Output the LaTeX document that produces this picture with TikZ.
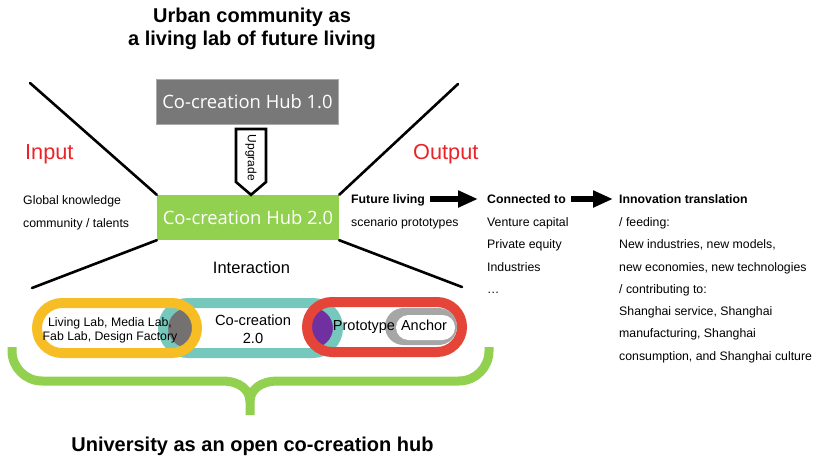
\documentclass[tikz,border=0pt]{standalone}
\usepackage{fontspec}
\setmainfont{Liberation Sans}
\newfontfamily\hubfont{Open Sans}
\usetikzlibrary{arrows.meta}

\definecolor{hubgreen}{RGB}{146,208,80}
\definecolor{hubgray}{RGB}{120,120,120}
\definecolor{hubedge}{RGB}{170,170,170}
\definecolor{labred}{RGB}{235,35,40}
\definecolor{pillyellow}{RGB}{247,189,36}
\definecolor{pillteal}{RGB}{118,200,188}
\definecolor{pillred}{RGB}{229,68,56}
\definecolor{anchorgray}{RGB}{166,166,166}
\definecolor{lensgray}{RGB}{118,113,113}
\definecolor{lenspurple}{RGB}{112,48,160}

\begin{document}
\begin{tikzpicture}[x=1pt,y=-1pt,
  hubbox/.style={minimum width=182pt, minimum height=45pt, inner sep=0pt,
    text=white, font=\hubfont\fontsize{18.4}{20}\selectfont},
  vline/.style={line width=2.6pt, line cap=round},
  title/.style={font=\bfseries\fontsize{20}{23}\selectfont, inner sep=0pt, anchor=base},
  redlabel/.style={text=labred, font=\fontsize{21.7}{24}\selectfont, inner sep=0pt, anchor=base west},
  small/.style={font=\fontsize{12.3}{14}\selectfont, inner sep=0pt, anchor=base west},
  smallbold/.style={small, font=\bfseries\fontsize{12.3}{14}\selectfont},
  pilltext/.style={font=\fontsize{14.7}{18}\selectfont, inner sep=0pt, anchor=base},
  bigarrow/.style={line width=6.5pt, -{Triangle[length=20pt,width=16pt]}},
  pill/.style={line width=10pt, rounded corners=25pt},
  brace/.style={line width=9pt, draw=hubgreen}
]
\useasboundingbox (0,0) rectangle (816,460);

% titles
\node[title] (top1) at (252,23) {Urban community as};
\node[title] (top2) at (252,46) {a living lab of future living};
\node[title] (bottom) at (252.5,451) {University as an open co-creation hub};

% hub boxes
\node[hubbox, fill=hubgray, draw=hubedge, line width=0.8pt] (hub1) at (247.5,101.5) {Co-creation Hub 1.0};
\node[hubbox, fill=hubgreen] (hub2) at (248,217.5) {Co-creation Hub 2.0};

% upgrade arrow between the hubs
\draw[line width=2.6pt, fill=white, line join=miter]
  (236,129) -- (266,129) -- (266,182) -- (hub2.north -| 251,0) -- (236,182) -- cycle;
\node[rotate=-90, font=\fontsize{12}{14}\selectfont, inner sep=0pt] (upg) at (251,158) {Upgrade};

% funnel lines
\coordinate (inTop) at (30,83);
\coordinate (outTop) at (458,84);
\coordinate (inBot) at (32,288);
\coordinate (outBot) at (462,287);
\draw[vline] (inTop) -- (hub2.north west);
\draw[vline] (outTop) -- (hub2.north east);
\draw[vline] (inBot) -- (hub2.south west);
\draw[vline] (outBot) -- (hub2.south east);

% input / output labels
\node[redlabel] (input) at (25,159) {Input};
\node[redlabel] (output) at (413,159) {Output};

\node[small] (in1) at (23,204) {Global knowledge};
\node[small] (in2) at (23,227) {community / talents};

\node[pilltext, font=\fontsize{16.5}{18}\selectfont] (interaction) at (251.5,273) {Interaction};

% output chain
\node[smallbold] (fl) at (351,203) {Future living};
\node[small] (fl2) at (351,226) {scenario prototypes};

\node[smallbold] (ct) at (487,203) {Connected to};
\node[small] (ct1) at (487,226) {Venture capital};
\node[small] (ct2) at (487,248) {Private equity};
\node[small] (ct3) at (487,271) {Industries};
\node[small] (ct4) at (487,293) {…};

\node[smallbold] (it) at (619,203) {Innovation translation};
\node[small] (r1) at (619,226) {/ feeding:};
\node[small] (r2) at (619,248) {New industries, new models,};
\node[small] (r3) at (619,271) {new economies, new technologies};
\node[small] (r4) at (619,293) {/ contributing to:};
\node[small] (r5) at (619,315.5) {Shanghai service, Shanghai};
\node[small] (r6) at (619,337.5) {manufacturing, Shanghai};
\node[small] (r7) at (619,360) {consumption, and Shanghai culture};

\draw[bigarrow, shorten <=5pt, shorten >=9pt] (fl.east |- 0,199) -- (ct.west |- 0,199);
\draw[bigarrow, shorten <=5pt, shorten >=6pt] (ct.east |- 0,199) -- (it.west |- 0,199);

% overlapping pills
\begin{scope}
  \clip[rounded corners=25pt] (37,303) rectangle (197,353);
  \fill[lensgray, rounded corners=25pt] (163,303) rectangle (338,353);
\end{scope}
\begin{scope}
  \clip[rounded corners=25pt] (307,302) rectangle (462,352);
  \fill[lenspurple, rounded corners=25pt] (163,303) rectangle (338,353);
\end{scope}
\draw[pill, draw=pillteal] (163,303) rectangle (338,353);
\draw[pill, draw=pillyellow] (37,303) rectangle (197,353);
\draw[pill, draw=pillred] (307,302) rectangle (462,352);

% anchor ring
\fill[anchorgray, rounded corners=18.5pt] (385,308) rectangle (457,345);
\fill[white, rounded corners=12.5pt] (396,315) rectangle (455,340);

\node[pilltext, font=\fontsize{12.3}{14}\selectfont] (lab1) at (110,326.5) {Living Lab, Media Lab,};
\node[pilltext, font=\fontsize{12.3}{14}\selectfont] (lab2) at (110,340) {Fab Lab, Design Factory};
\node[pilltext] (cc1) at (253,325) {Co-creation};
\node[pilltext] (cc2) at (253,343) {2.0};
\node[pilltext, font=\fontsize{14.5}{18}\selectfont] (proto) at (364,330) {Prototype};
\node[pilltext, font=\fontsize{14.5}{18}\selectfont] (anchor) at (424,330) {Anchor};

% green brace
\draw[brace] (12,347) -- (12,351) .. controls (12,367.5) and (25.5,381) .. (42,381)
  -- (222,381) .. controls (240,381) and (250,390) .. (250,402) -- (250,415);
\draw[brace] (489,347) -- (489,351) .. controls (489,367.5) and (475.5,381) .. (459,381)
  -- (278,381) .. controls (260,381) and (250,390) .. (250,402);
\end{tikzpicture}
\end{document}
